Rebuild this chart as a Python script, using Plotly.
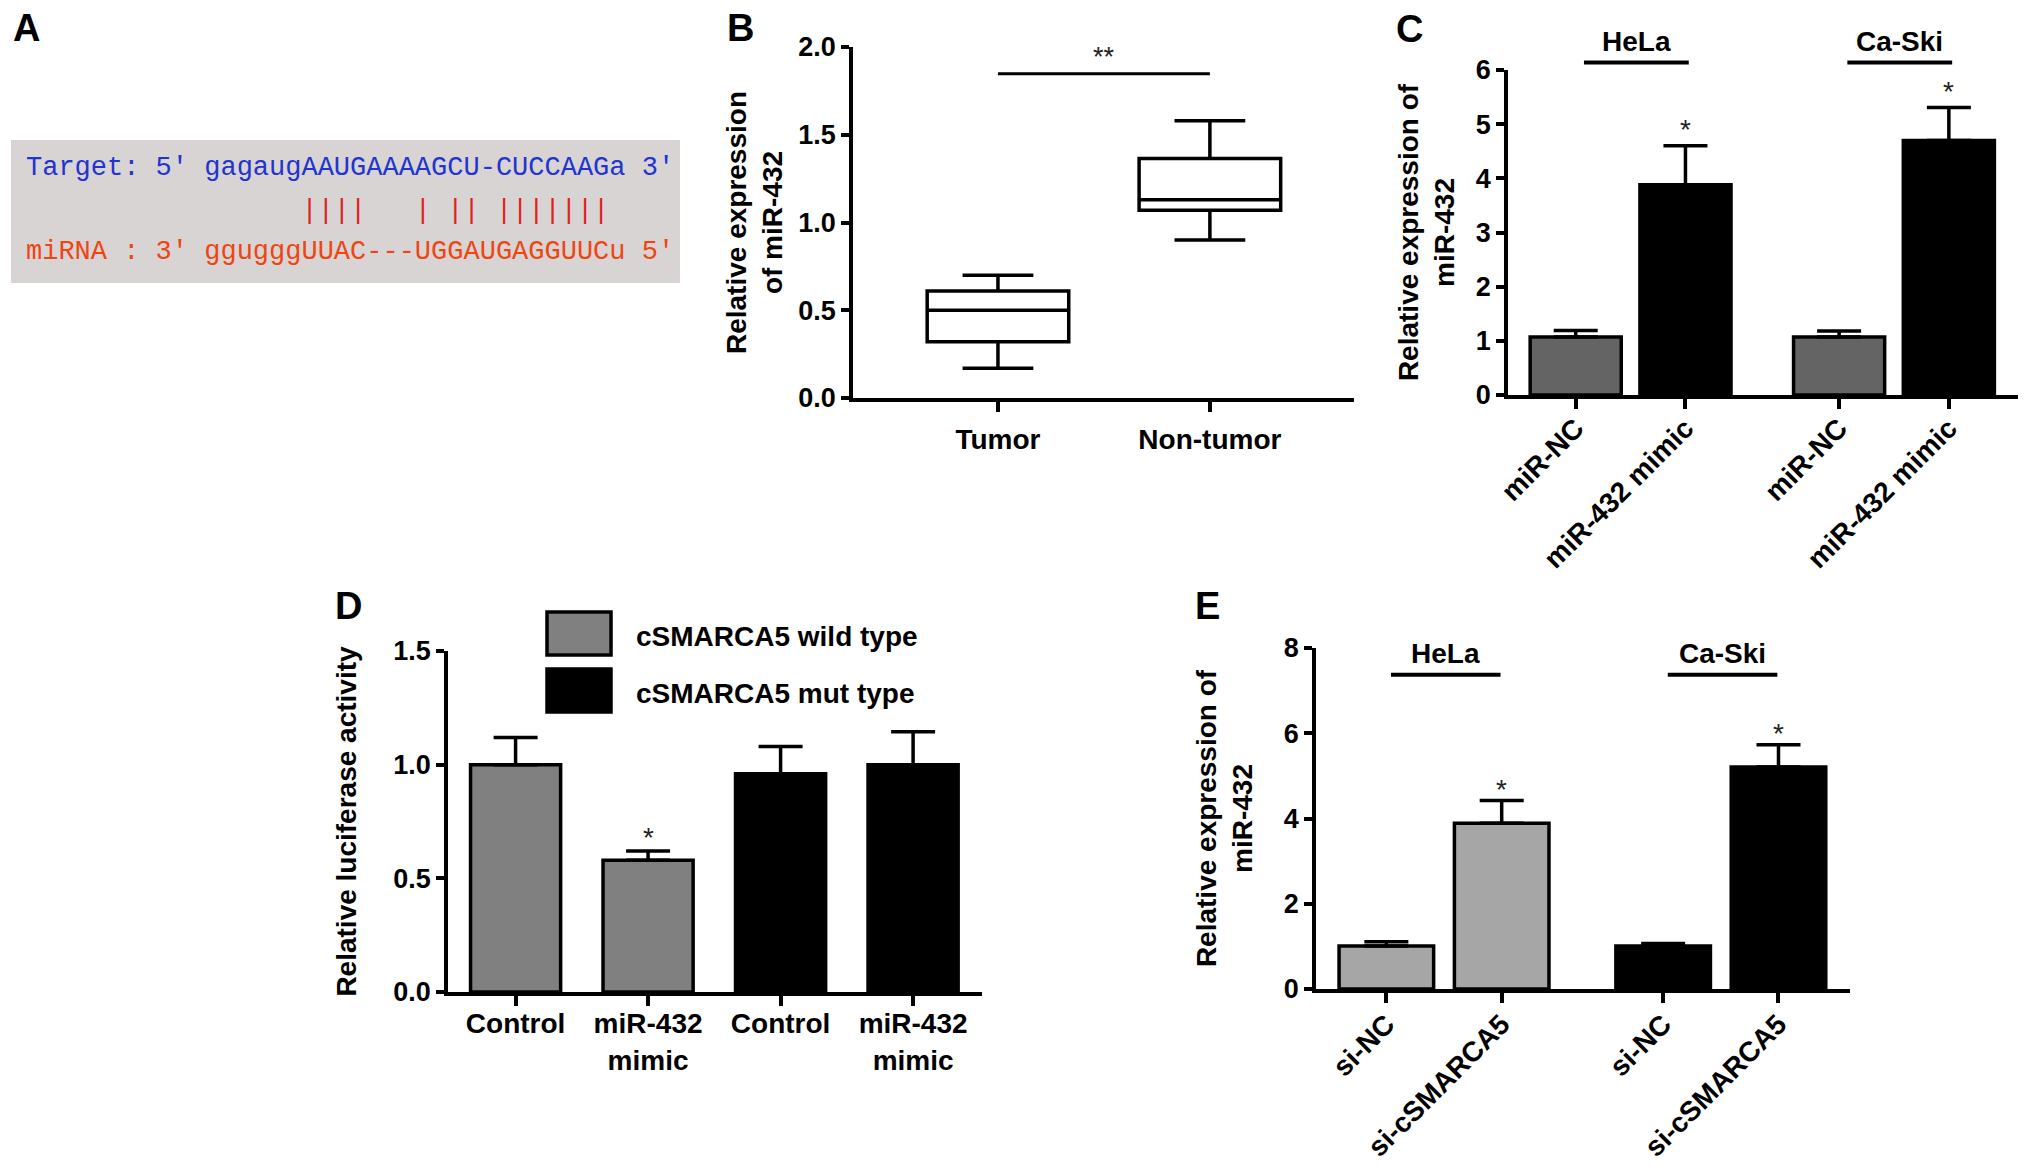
import plotly.graph_objects as go

W, H = 2031, 1170

# panel A - predicted binding site
target_seq = "Target: 5' gagaugAAUGAAAAGCU-CUCCAAGa 3'"
pair_marks = "           " + "      ||||   | || |||||||"
mirna_seq = "miRNA : 3' ggugggUUAC---UGGAUGAGGUUCu 5'"

# panel B - box plot, tumor vs non-tumor
box_groups = ["Tumor", "Non-tumor"]
box_low = [0.17, 0.90]
box_q1 = [0.32, 1.07]
box_med = [0.50, 1.13]
box_q3 = [0.61, 1.365]
box_high = [0.70, 1.58]

# panel C - miR-432 mimic
c_labels = ["miR-NC", "miR-432 mimic", "miR-NC", "miR-432 mimic"]
c_cells = ["HeLa", "Ca-Ski"]
c_mean = [1.07, 3.88, 1.07, 4.70]
c_sem = [0.12, 0.72, 0.11, 0.61]
c_colors = ["#646464", "#000000", "#646464", "#000000"]

# panel D - luciferase
d_labels = ["Control", "miR-432<br>mimic", "Control", "miR-432<br>mimic"]
d_series = ["cSMARCA5 wild type", "cSMARCA5 mut type"]
d_mean = [1.00, 0.58, 0.96, 1.00]
d_sem = [0.12, 0.04, 0.12, 0.145]
d_colors = ["#808080", "#808080", "#000000", "#000000"]

# panel E - si-cSMARCA5
e_labels = ["si-NC", "si-cSMARCA5", "si-NC", "si-cSMARCA5"]
e_cells = ["HeLa", "Ca-Ski"]
e_mean = [1.01, 3.89, 1.01, 5.21]
e_sem = [0.10, 0.53, 0.06, 0.52]
e_colors = ["#a6a6a6", "#a6a6a6", "#000000", "#000000"]

SANS = "Liberation Sans"
MONO = "Liberation Mono"
LW = 3.5

def fx(px):
    return px / W

def fy(py):
    return 1 - py / H

# two groups of two bars, with a wider gap between groups
grp_pos = [g * 2.4 + i for g in range(2) for i in range(2)]

fig = go.Figure()

fig.add_trace(go.Box(
    x=[0, 1], q1=box_q1, median=box_med, q3=box_q3,
    lowerfence=box_low, upperfence=box_high,
    width=0.668, whiskerwidth=0.5, boxpoints=False,
    fillcolor="white", line=dict(color="black", width=LW),
    xaxis="x", yaxis="y", showlegend=False, hoverinfo="skip"))

def bar_trace(xs, means, sems, colors, width, ax):
    return go.Bar(
        x=xs, y=means, width=width,
        marker=dict(color=colors, line=dict(color="black", width=LW)),
        error_y=dict(type="data", array=sems, arrayminus=[0] * len(sems),
                     symmetric=False, color="black", thickness=LW, width=22),
        xaxis="x" + ax, yaxis="y" + ax, showlegend=False, hoverinfo="skip")

fig.add_trace(bar_trace(grp_pos, c_mean, c_sem, c_colors, 0.83, "2"))
fig.add_trace(bar_trace(list(range(4)), d_mean, d_sem, d_colors, 0.68, "3"))
fig.add_trace(bar_trace(grp_pos, e_mean, e_sem, e_colors, 0.82, "4"))

tick_font = dict(family=SANS, size=28, color="black", weight="bold")
ytick_font = dict(family=SANS, size=27, color="black", weight="bold")
title_font = dict(family=SANS, size=28, color="black", weight="bold")

def xax(domain, rng, vals, text, anchor, angle=0, standoff=4):
    return dict(domain=domain, range=rng, anchor=anchor, tickvals=vals, ticktext=text,
                showline=True, linecolor="black", linewidth=LW, ticks="outside",
                ticklen=10, tickwidth=LW, tickcolor="black", showgrid=False,
                zeroline=False, tickfont=tick_font, tickangle=angle,
                ticklabelstandoff=standoff, automargin=False)

def yax(domain, rng, dtick, fmt, anchor, title, standoff):
    return dict(domain=domain, range=rng, anchor=anchor, dtick=dtick, tickformat=fmt,
                showline=True, linecolor="black", linewidth=LW, ticks="outside",
                ticklen=8, tickwidth=LW, tickcolor="black", showgrid=False,
                zeroline=False, tickfont=ytick_font, automargin=False,
                title=dict(text=title, font=title_font, standoff=standoff))

fig.update_layout(
    xaxis=xax([fx(853), fx(1354)], [-0.684, 1.68], [0, 1], box_groups, "y"),
    yaxis=yax([fy(398), fy(47)], [0, 2], 0.5, ".1f", "x",
              "Relative expression<br>of miR-432", 8),
    xaxis2=xax([fx(1508), fx(2018)], [-0.617, 4.03], grp_pos, c_labels, "y2", -45, -8),
    yaxis2=yax([fy(395), fy(70)], [0, 6], 1, "d", "x2",
               "Relative expression of<br>miR-432", 14),
    xaxis3=xax([fx(448), fx(982)], [-0.51, 3.52], list(range(4)), d_labels, "y3", 0, -6),
    yaxis3=yax([fy(992), fy(651)], [0, 1.5], 0.5, ".1f", "x3",
               "Relative luciferase activity", 30),
    xaxis4=xax([fx(1316), fx(1850)], [-0.61, 4.02], grp_pos, e_labels, "y4", -45, -6),
    yaxis4=yax([fy(989), fy(648)], [0, 8], 2, "d", "x4",
               "Relative expression of<br>miR-432", 24),
)

shapes = []
annotations = []

# panel letters
for letter, (lx, ly) in zip("ABCDE", [(26, 28), (740, 28), (1409, 29), (348, 606), (1207, 606)]):
    annotations.append(dict(text=letter, x=fx(lx), y=fy(ly), xref="paper", yref="paper",
                            showarrow=False, xanchor="center", yanchor="middle",
                            font=dict(family=SANS, size=38, color="black", weight="bold")))

# panel A
shapes.append(dict(type="rect", xref="paper", yref="paper", x0=fx(11), x1=fx(680),
                   y0=fy(283), y1=fy(140), fillcolor="#d8d4d4", line=dict(width=0),
                   layer="below"))
nb = "\u00a0"
for txt, py, col in [(target_seq, 168, "#2233d0"), (pair_marks, 211, "#e02222"),
                     (mirna_seq, 252, "#f04412")]:
    annotations.append(dict(text=txt.replace(" ", nb), x=fx(24), y=fy(py),
                            xref="paper", yref="paper", showarrow=False,
                            xanchor="left", yanchor="middle",
                            font=dict(family=MONO, size=27, color=col)))

# panel B significance
shapes.append(dict(type="line", xref="x", yref="y", x0=0, x1=1, y0=1.848, y1=1.848,
                   line=dict(color="black", width=3)))
annotations.append(dict(text="**", x=0.5, y=1.848, xref="x", yref="y", showarrow=False,
                        yanchor="middle", yshift=17,
                        font=dict(family=SANS, size=27, color="#222222")))

star_font = dict(family=SANS, size=28, color="#222222")

# panel C groups and stars
c_top = 6
for g, cell in enumerate(c_cells):
    x0 = grp_pos[2 * g] + 0.075
    x1 = grp_pos[2 * g + 1] + 0.03
    shapes.append(dict(type="line", xref="x2", yref="y2 domain", x0=x0, x1=x1,
                       y0=6.14 / c_top, y1=6.14 / c_top, line=dict(color="black", width=4)))
    annotations.append(dict(text=cell, x=(x0 + x1) / 2, y=6.52 / c_top, xref="x2",
                            yref="y2 domain", showarrow=False, yanchor="middle",
                            font=title_font))
for i in (1, 3):
    annotations.append(dict(text="*", x=grp_pos[i], y=c_mean[i] + c_sem[i], xref="x2",
                            yref="y2", showarrow=False, yanchor="middle", yshift=16,
                            font=star_font))

# panel D star and legend
annotations.append(dict(text="*", x=1, y=d_mean[1] + d_sem[1], xref="x3", yref="y3",
                        showarrow=False, yanchor="middle", yshift=14, font=star_font))
for k, name in enumerate(d_series):
    col = d_colors[2 * k]
    top = 612 + k * 57
    shapes.append(dict(type="rect", xref="paper", yref="paper", x0=fx(547), x1=fx(611),
                       y0=fy(top + 43), y1=fy(top), fillcolor=col,
                       line=dict(color="black", width=LW)))
    annotations.append(dict(text=name, x=fx(634), y=fy(top + 24), xref="paper",
                            yref="paper", showarrow=False, xanchor="left",
                            yanchor="middle", font=title_font))

# panel E groups and stars
for g, cell in enumerate(e_cells):
    x0 = grp_pos[2 * g] + 0.04
    x1 = grp_pos[2 * g + 1] - 0.01
    shapes.append(dict(type="line", xref="x4", yref="y4", x0=x0, x1=x1,
                       y0=7.37, y1=7.37, line=dict(color="black", width=4)))
    annotations.append(dict(text=cell, x=(x0 + x1) / 2, y=7.88, xref="x4", yref="y4",
                            showarrow=False, yanchor="middle", font=title_font))
for i in (1, 3):
    annotations.append(dict(text="*", x=grp_pos[i], y=e_mean[i] + e_sem[i], xref="x4",
                            yref="y4", showarrow=False, yanchor="middle", yshift=11,
                            font=star_font))

fig.update_layout(
    width=W, height=H,
    margin=dict(l=0, r=0, t=0, b=0, autoexpand=False),
    paper_bgcolor="white", plot_bgcolor="white",
    shapes=shapes, annotations=annotations,
    showlegend=False,
)

fig.write_html("out.html", config={"displayModeBar": False},
               post_script="document.body.style.margin='0px';")
